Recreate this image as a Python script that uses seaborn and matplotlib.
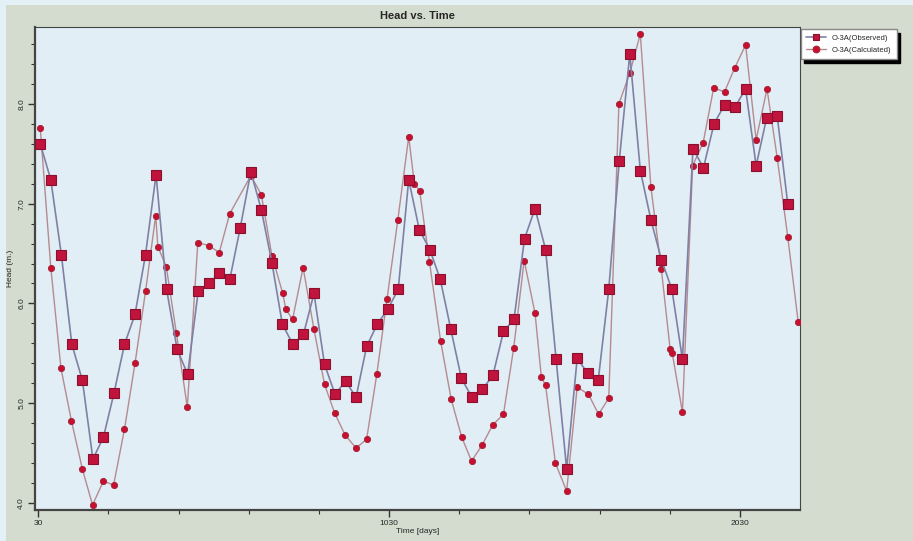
import matplotlib
matplotlib.use("Agg")
import matplotlib.pyplot as plt
import matplotlib.patches as mpatches
from matplotlib.ticker import MultipleLocator, FixedLocator
import pandas as pd
import seaborn as sns

# observed heads (monthly)
obs_time = [36, 66, 96, 126, 156, 186, 216, 246, 276, 306, 336, 366, 396, 426, 456, 486,
            516, 546, 576, 606, 636, 666, 696, 726, 756, 786, 816, 846, 876, 906, 936, 966,
            996, 1026, 1056, 1086, 1116, 1146, 1176, 1206, 1236, 1266, 1296, 1326, 1356, 1386,
            1416, 1446, 1476, 1506, 1536, 1566, 1596, 1626, 1656, 1686, 1716, 1746, 1776, 1806,
            1836, 1866, 1896, 1926, 1956, 1986, 2016, 2046, 2076, 2106, 2136, 2166]
obs_head = [7.60, 7.24, 6.49, 5.59, 5.23, 4.44, 4.66, 5.10, 5.59, 5.89, 6.49, 7.29, 6.14,
            5.54, 5.29, 6.12, 6.20, 6.30, 6.24, 6.76, 7.32, 6.94, 6.41, 5.79, 5.59,
            5.69, 6.10, 5.39, 5.09, 5.22, 5.06, 5.57, 5.79, 5.94, 6.14, 7.24, 6.74, 6.54,
            6.24, 5.74, 5.25, 5.06, 5.14, 5.28, 5.72, 5.84, 6.65, 6.95,
            6.54, 5.44, 4.34, 5.45, 5.30, 5.23, 6.14, 7.43, 8.50, 7.33, 6.84, 6.44, 6.14,
            5.44, 7.55, 7.36, 7.80, 7.99, 7.97, 8.15, 7.38, 7.86, 7.88, 7.00]

# calculated heads
calc_time = [36, 66, 95, 125, 156, 185, 216, 245, 276, 306, 336, 365, 371, 395, 424, 455,
             485, 516, 546, 576, 636, 666, 696, 727, 736, 755, 785, 816, 846, 875, 905, 936,
             966, 995, 1024, 1055, 1086, 1102, 1117, 1145, 1177, 1207, 1237, 1265, 1295, 1325,
             1356, 1385, 1415, 1446, 1464, 1476, 1504, 1536, 1566, 1598, 1627, 1656, 1685, 1716,
             1746, 1776, 1806, 1831, 1837, 1866, 1895, 1925, 1955, 1986, 2015, 2046, 2076, 2107,
             2136, 2166, 2196]
calc_head = [7.76, 6.36, 5.35, 4.82, 4.34, 3.98, 4.22, 4.18, 4.74, 5.40, 6.12, 6.88, 6.57,
             6.37, 5.70, 4.96, 6.61, 6.58, 6.51, 6.90, 7.28, 7.09, 6.48, 6.10, 5.94, 5.84,
             6.36, 5.74, 5.19, 4.90, 4.68, 4.55, 4.64, 5.29, 6.04, 6.84, 7.67, 7.20, 7.13,
             6.42, 5.62, 5.04, 4.66, 4.42, 4.58, 4.78, 4.89, 5.55, 6.43, 5.90, 5.26, 5.18,
             4.40, 4.12, 5.16, 5.09, 4.89, 5.05, 8.00, 8.31, 8.70, 7.17, 6.34, 5.54, 5.50,
             4.91, 7.38, 7.61, 8.16, 8.12, 8.36, 8.59, 7.64, 8.15, 7.46, 6.67, 5.81]

obs = pd.DataFrame({"time": obs_time, "head": obs_head})
calc = pd.DataFrame({"time": calc_time, "head": calc_head})

sns.set_style("ticks")
plt.rcParams["font.family"] = ["Liberation Sans", "DejaVu Sans"]

fig = plt.figure(figsize=(9.13, 5.41), dpi=100)
fig.patch.set_facecolor("#e3f0f6")
fig.patches.append(mpatches.Rectangle((6 / 913, 0), 1, 1 - 5 / 541, transform=fig.transFigure,
                                      facecolor="#d4dccf", edgecolor="none", zorder=-10))

ax = fig.add_axes([35 / 913, 1 - 510 / 541, 765 / 913, 483 / 541])
ax.set_facecolor("#e1eef5")

sns.lineplot(data=calc, x="time", y="head", ax=ax, color="#b68a90", linewidth=1.0,
             marker="o", markersize=4.5, markerfacecolor="#c8102e", markeredgecolor="#a0203a",
             markeredgewidth=0.6, label="O-3A(Calculated)", zorder=3)
sns.lineplot(data=obs, x="time", y="head", ax=ax, color="#8080a4", linewidth=1.2,
             marker="s", markersize=7.5, markerfacecolor="#c0143c", markeredgecolor="#8a1030",
             markeredgewidth=0.8, label="O-3A(Observed)", zorder=4)

ax.set_xlim(21, 2201)
ax.set_ylim(3.93, 8.77)
ax.xaxis.set_major_locator(FixedLocator([30, 1030, 2030]))
ax.xaxis.set_minor_locator(FixedLocator([230, 430, 630, 830, 1230, 1430, 1630, 1830]))
ax.yaxis.set_major_locator(MultipleLocator(1.0))
ax.yaxis.set_minor_locator(MultipleLocator(0.2))
ax.yaxis.set_major_formatter(matplotlib.ticker.FormatStrFormatter("%.1f"))
ax.tick_params(which="major", length=5, width=1, labelsize=6, color="#333333", pad=2)
ax.tick_params(which="minor", length=3, width=0.8, color="#333333")
for lbl in ax.get_yticklabels():
    lbl.set_rotation(90)
    lbl.set_va("center")
for side in ["top", "right", "bottom", "left"]:
    ax.spines[side].set_visible(True)
    ax.spines[side].set_color("#444444")
ax.spines["bottom"].set_linewidth(1.6)
ax.spines["left"].set_linewidth(1.6)

ax.set_xlabel("Time [days]", fontsize=6, labelpad=1)
ax.set_ylabel("Head (m.)", fontsize=6, labelpad=3)
ax.set_title("Head vs. Time", fontsize=8, fontweight="bold", pad=6)

handles, labels = ax.get_legend_handles_labels()
leg = ax.legend(handles[::-1], labels[::-1], loc="upper left", bbox_to_anchor=(1.0, 0.997),
                borderaxespad=0.1, fontsize=5.5, frameon=True, fancybox=False,
                shadow={"color": "black", "alpha": 1, "ox": 2.5, "oy": -2.5},
                borderpad=0.7, handlelength=2.6, labelspacing=0.6)
leg.get_frame().set_facecolor("white")
leg.get_frame().set_edgecolor("#888888")
for h in leg.legend_handles:
    h.set_markersize(5)

fig.savefig("out.png", dpi=100)
